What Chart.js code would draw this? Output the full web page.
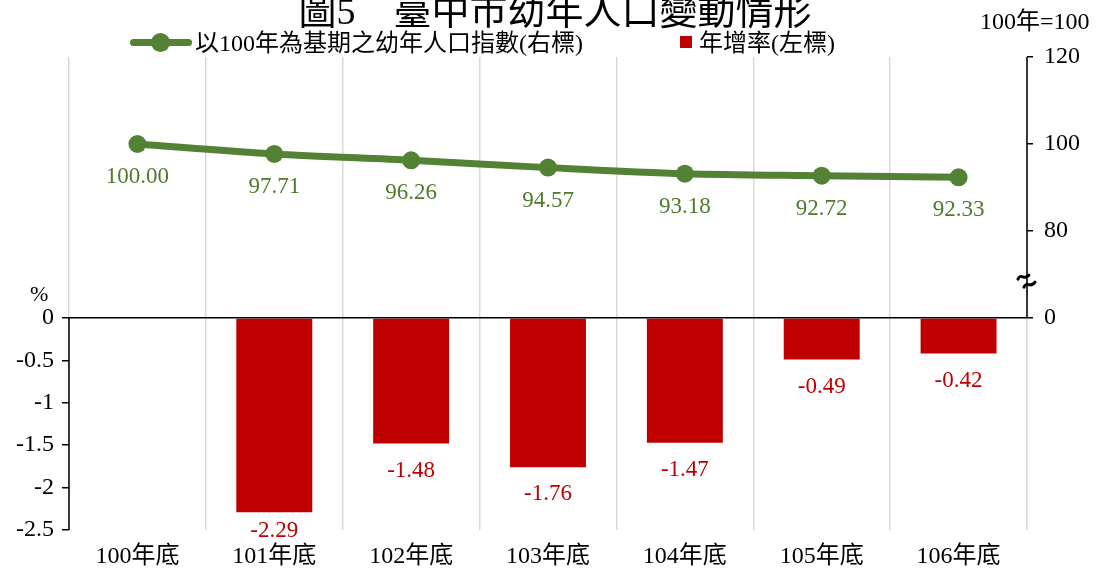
<!DOCTYPE html>
<html>
<head>
<meta charset="utf-8">
<script src="https://cdn.jsdelivr.net/npm/chart.js@4/dist/chart.umd.min.js"></script>
<style>
  html, body { margin: 0; padding: 0; background: #fff; }
  #wrap { position: relative; width: 1099px; height: 574px; overflow: hidden;
          font-family: 'Liberation Serif', 'Noto Sans CJK TC', serif; }
  #chart { position: absolute; left: 0; top: 0; }
  .txt { position: absolute; white-space: nowrap; color: #000; }
  #title { left: 0; width: 1110px; text-align: center; top: -8px; font-size: 38px; line-height: 38px; }
  .leg { top: 29px; font-size: 24px; line-height: 28px; }
  #legLine { position: absolute; left: 130px; top: 39px; width: 62px; height: 7px; background: #548235; border-radius: 4px; }
  #legDot { position: absolute; left: 151px; top: 33px; width: 19px; height: 19px; background: #548235; border-radius: 50%; }
  #legBox { position: absolute; left: 680px; top: 36px; width: 12px; height: 12px; background: #c00000; }
</style>
</head>
<body>
<div id="wrap">
  <canvas id="chart" width="1099" height="574"></canvas>
  <div class="txt" id="title">圖5　臺中市幼年人口變動情形</div>
  <div id="legLine"></div>
  <div id="legDot"></div>
  <div class="txt leg" style="left:195px;">以100年為基期之幼年人口指數(右標)</div>
  <div id="legBox"></div>
  <div class="txt leg" style="left:699px;">年增率(左標)</div>
  <div class="txt" style="left:980px; top:7px; font-size:24px; line-height:28px;">100年=100</div>
  <div class="txt" style="left:30px; top:281px; font-size:22px; line-height:26px;">%</div>
</div>
<script>
// 資料
const categories = ['100年底', '101年底', '102年底', '103年底', '104年底', '105年底', '106年底'];
const indexValues = [100.00, 97.71, 96.26, 94.57, 93.18, 92.72, 92.33];
const growthRates = [null, -2.29, -1.48, -1.76, -1.47, -0.49, -0.42];
const leftTicks = [0, -0.5, -1, -1.5, -2, -2.5];
const rightTicks = [60, 80, 100, 120];   // 60 顯示為 0 (斷軸)

const FONT = "'Liberation Serif', 'Noto Sans CJK TC', serif";
const GREEN = '#548235';
const RED = '#c00000';

// 左軸 0 在 y=318, 圖區 57~530
const leftMax = 2.5 * 261 / 212;
const rightMin = 120 - 60 * 473 / 261;

// 軸線、斷軸符號與數值標籤
const extras = {
    id: 'extras',
    afterDatasetsDraw(chart) {
        const ctx = chart.ctx;
        const y = chart.scales.y;
        const y1 = chart.scales.y1;
        ctx.save();
        ctx.strokeStyle = '#000';
        ctx.lineWidth = 1.5;
        ctx.beginPath();
        ctx.moveTo(y.right, y.getPixelForValue(0));
        ctx.lineTo(y.right, y.getPixelForValue(-2.5));
        ctx.moveTo(y1.left, y1.getPixelForValue(60));
        ctx.lineTo(y1.left, y1.getPixelForValue(120));
        ctx.stroke();

        // 斷軸符號
        const by = y1.getPixelForValue(68.7);
        const bx = y1.left;
        ctx.lineWidth = 3;
        ctx.lineCap = 'round';
        ctx.beginPath();
        ctx.moveTo(bx - 9, by - 1);
        ctx.bezierCurveTo(bx - 6, by - 8, bx - 3, by + 1, bx + 2, by - 5);
        ctx.moveTo(bx - 3, by + 7);
        ctx.bezierCurveTo(bx, by, bx + 3, by + 9, bx + 8, by + 2);
        ctx.stroke();

        ctx.font = '23px ' + FONT;
        ctx.textAlign = 'center';
        ctx.textBaseline = 'middle';
        chart.getDatasetMeta(0).data.forEach((pt, i) => {
            ctx.fillStyle = '#4e7a2b';
            ctx.fillText(indexValues[i].toFixed(2), pt.x, pt.y + 33);
        });
        chart.getDatasetMeta(1).data.forEach((bar, i) => {
            if (growthRates[i] === null) return;
            ctx.fillStyle = RED;
            ctx.fillText(growthRates[i].toFixed(2), bar.x, Math.min(bar.y + 27, 531));
        });
        ctx.restore();
    }
};

new Chart(document.getElementById('chart'), {
    data: {
        labels: categories,
        datasets: [{
            type: 'line',
            data: indexValues,
            yAxisID: 'y1',
            borderColor: GREEN,
            backgroundColor: GREEN,
            borderWidth: 7,
            pointRadius: 9,
            pointBackgroundColor: GREEN,
            pointBorderWidth: 0,
            tension: 0.3,
            order: 0
        }, {
            type: 'bar',
            data: growthRates,
            yAxisID: 'y',
            backgroundColor: RED,
            barPercentage: 0.555,
            categoryPercentage: 1,
            order: 1
        }]
    },
    options: {
        responsive: false,
        animation: false,
        layout: { padding: { top: 57, left: 0, right: 0, bottom: 0 } },
        plugins: { legend: { display: false }, tooltip: { enabled: false } },
        scales: {
            x: {
                offset: true,
                grid: { offset: true, color: '#d9d9d9', lineWidth: 1.5, drawTicks: false },
                border: { display: false },
                ticks: { color: '#000', font: { family: FONT, size: 24 }, padding: 12, maxRotation: 0 },
                afterFit(scale) { scale.height = 44; }
            },
            y: {
                position: 'left',
                min: -2.5,
                max: leftMax,
                afterBuildTicks(scale) { scale.ticks = leftTicks.map(v => ({ value: v })); },
                grid: {
                    color: c => (c.tick && c.tick.value === 0) ? '#000' : 'rgba(0,0,0,0)',
                    lineWidth: 1.5,
                    tickColor: '#000',
                    tickLength: 7
                },
                border: { display: false },
                ticks: { color: '#000', font: { family: FONT, size: 24 }, padding: 8,
                         callback: v => String(v) },
                afterFit(scale) { scale.width = 69; }
            },
            y1: {
                position: 'right',
                min: rightMin,
                max: 120,
                afterBuildTicks(scale) { scale.ticks = rightTicks.map(v => ({ value: v })); },
                grid: { drawOnChartArea: false, tickColor: '#000', tickLength: 6, lineWidth: 1.5 },
                border: { display: false },
                ticks: { color: '#000', font: { family: FONT, size: 24 }, padding: 11,
                         callback: v => v === 60 ? '0' : String(v) },
                afterFit(scale) { scale.width = 72; }
            }
        }
    },
    plugins: [extras]
});
</script>
</body>
</html>
